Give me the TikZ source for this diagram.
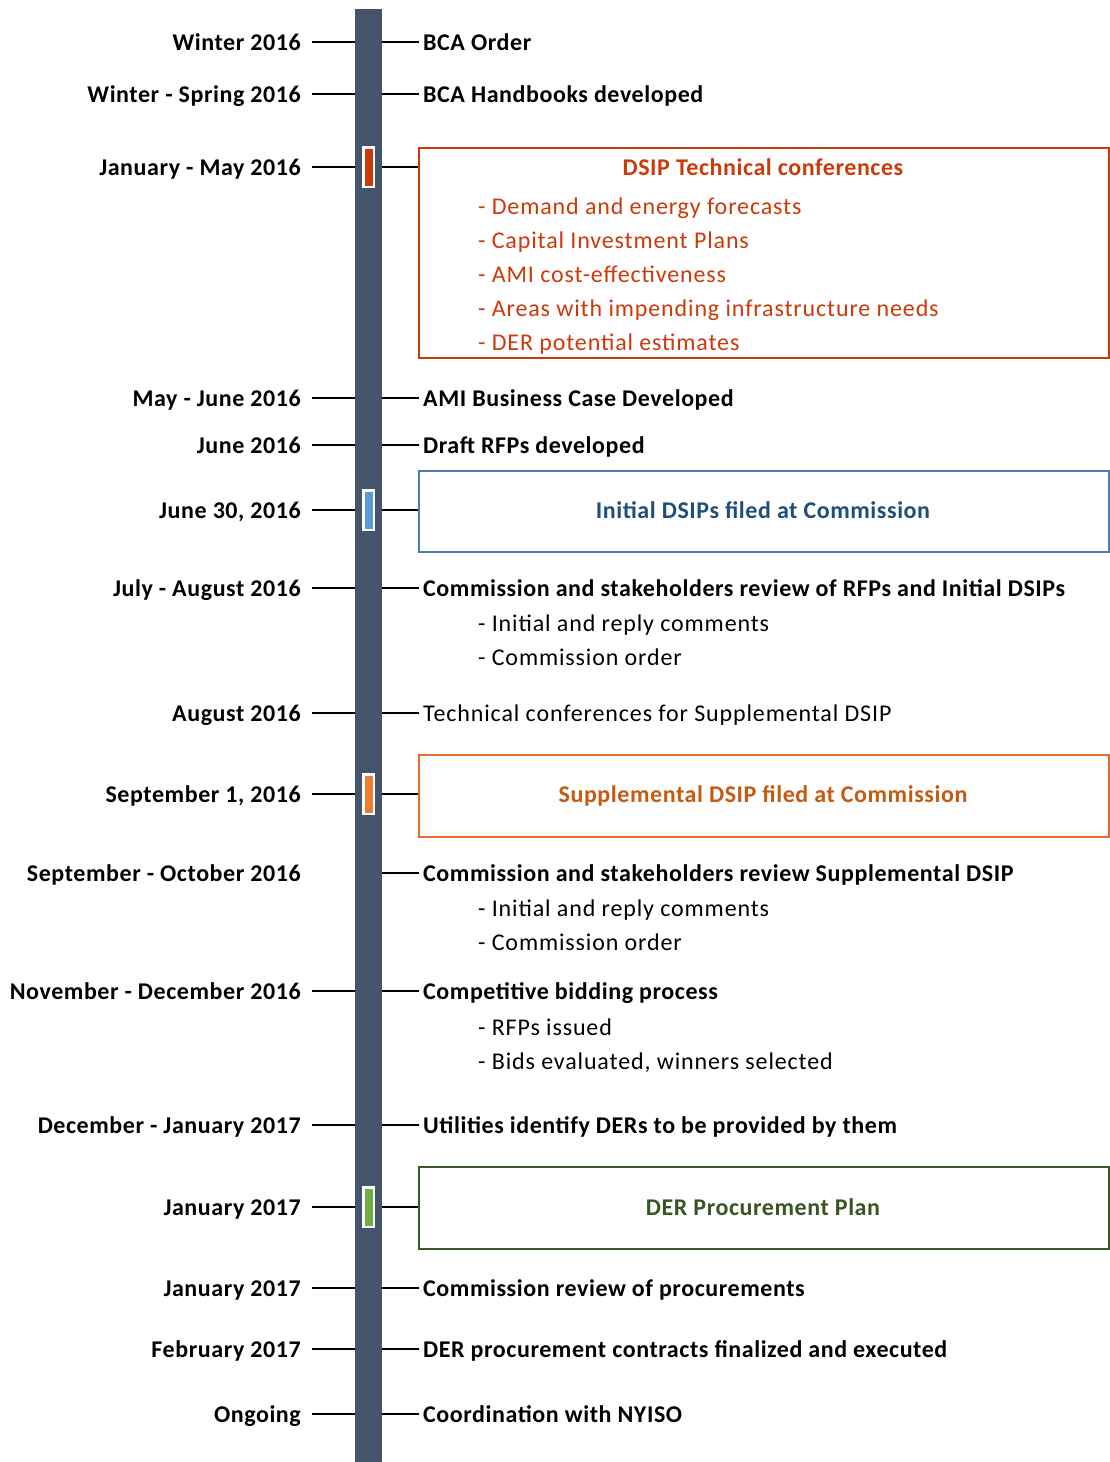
\documentclass[tikz,border=0pt]{standalone}
\usepackage{fontspec}
\setmainfont{Carlito}
\newfontfamily\regsp[LetterSpace=3.6]{Carlito}
\newfontfamily\bldsp[LetterSpace=2.4]{Carlito}
\definecolor{barc}{HTML}{44546A}
\definecolor{redc}{HTML}{CC3A0A}
\definecolor{bluebd}{HTML}{4A7EBB}
\definecolor{bluetx}{HTML}{1F4E79}
\definecolor{bluemk}{HTML}{5B9BD5}
\definecolor{orgbd}{HTML}{E46C28}
\definecolor{orgtx}{HTML}{C55A11}
\definecolor{orgmk}{HTML}{ED7D31}
\definecolor{grnbd}{HTML}{3A5A22}
\definecolor{grntx}{HTML}{375623}
\definecolor{grnmk}{HTML}{70AD47}
\begin{document}
\begin{tikzpicture}[x=1pt,y=-1pt,
  every node/.style={inner sep=0pt},
  txt/.style={font=\fontsize{24}{28}\selectfont\regsp, text height=16pt, text depth=0pt},
  btxt/.style={font=\fontsize{24}{28}\selectfont\bldsp\bfseries, text height=16pt, text depth=0pt},
  lab/.style={btxt, anchor=east},
  evt/.style={btxt, anchor=west},
  evtr/.style={txt, anchor=west},
  sub/.style={txt, anchor=west},
  tick/.style={line width=2pt, black},
  boxr/.style={draw, line width=2pt, minimum width=690, anchor=north west},
  marker/.style={draw=white, line width=2.5pt, minimum width=10.5, minimum height=39.5}
]
\useasboundingbox (0,0) rectangle (1110,1462);
\fill[white] (0,0) rectangle (1110,1462);
% timeline bar
\node[fill=barc, minimum width=27, minimum height=1453, anchor=north west] (bar) at (355,9) {};

% ---- left labels
\node[lab] (l1) at (301,42) {Winter 2016};
\node[lab] (l2) at (301,94) {Winter - Spring 2016};
\node[lab] (l3) at (301,167) {January - May 2016};
\node[lab] (l4) at (301,398) {May - June 2016};
\node[lab] (l5) at (301,445) {June 2016};
\node[lab] (l6) at (301,510) {June 30, 2016};
\node[lab] (l7) at (301,588) {July - August 2016};
\node[lab] (l8) at (301,713) {August 2016};
\node[lab] (l9) at (301,794) {September 1, 2016};
\node[lab] (l10) at (301,873) {September - October 2016};
\node[lab] (l11) at (301,991) {November - December 2016};
\node[lab] (l12) at (301,1125) {December - January 2017};
\node[lab] (l13) at (301,1207) {January 2017};
\node[lab] (l14) at (301,1288) {January 2017};
\node[lab] (l15) at (301,1349) {February 2017};
\node[lab] (l16) at (301,1414) {Ongoing};

% left ticks (none for l10)
\foreach \i in {1,...,9,11,12,13,14,15,16}{
  \draw[tick] ([xshift=11pt]l\i.east) -- (l\i.east -| bar.west);
}

% ---- boxes
\node[boxr, draw=redc, minimum height=210] (b3) at (418,147) {};
\node[boxr, draw=bluebd, minimum height=81] (b6) at (418,470) {};
\node[boxr, draw=orgbd, minimum height=82] (b9) at (418,754) {};
\node[boxr, draw=grnbd, minimum height=82] (b13) at (418,1166) {};

\node[btxt, text=redc] (t3) at (763,167) {DSIP Technical conferences};
\node[sub, text=redc] (s3a) at (478,206) {- Demand and energy forecasts};
\node[sub, text=redc] (s3b) at (478,240) {- Capital Investment Plans};
\node[sub, text=redc] (s3c) at (478,274) {- AMI cost-effectiveness};
\node[sub, text=redc] (s3d) at (478,308) {- Areas with impending infrastructure needs};
\node[sub, text=redc] (s3e) at (478,342) {- DER potential estimates};

\node[btxt, text=bluetx] (t6) at (763,510) {Initial DSIPs filed at Commission};
\node[btxt, text=orgtx] (t9) at (763,794) {Supplemental DSIP filed at Commission};
\node[btxt, text=grntx] (t13) at (763,1207) {DER Procurement Plan};

% ---- right events
\node[evt] (r1) at (423,42) {BCA Order};
\node[evt] (r2) at (423,94) {BCA Handbooks developed};
\node[evt] (r4) at (423,398) {AMI Business Case Developed};
\node[evt] (r5) at (423,445) {Draft RFPs developed};
\node[evt] (r7) at (423,588) {Commission and stakeholders review of RFPs and Initial DSIPs};
\node[sub] (s7a) at (478,623) {- Initial and reply comments};
\node[sub] (s7b) at (478,657) {- Commission order};
\node[evtr] (r8) at (423,713) {Technical conferences for Supplemental DSIP};
\node[evt] (r10) at (423,873) {Commission and stakeholders review Supplemental DSIP};
\node[sub] (s10a) at (478,908) {- Initial and reply comments};
\node[sub] (s10b) at (478,942) {- Commission order};
\node[evt] (r11) at (423,991) {Competitive bidding process};
\node[sub] (s11a) at (478,1027) {- RFPs issued};
\node[sub] (s11b) at (478,1061) {- Bids evaluated, winners selected};
\node[evt] (r12) at (423,1125) {Utilities identify DERs to be provided by them};
\node[evt] (r14) at (423,1288) {Commission review of procurements};
\node[evt] (r15) at (423,1349) {DER procurement contracts finalized and executed};
\node[evt] (r16) at (423,1414) {Coordination with NYISO};

% right ticks to text
\foreach \i in {1,2,4,5,7,8,10,11,12,14,15,16}{
  \draw[tick] (r\i.west -| bar.east) -- ([xshift=-4pt]r\i.west);
}
% right ticks to boxes
\draw[tick] (l3.east -| bar.east) -- (l3.east -| b3.west);
\draw[tick] (l6.east -| bar.east) -- (l6.east -| b6.west);
\draw[tick] (l9.east -| bar.east) -- (l9.east -| b9.west);
\draw[tick] (l13.east -| bar.east) -- (l13.east -| b13.west);

% markers
\node[marker, fill=redc] (m3) at (368.5,167) {};
\node[marker, fill=bluemk] (m6) at (368.5,510) {};
\node[marker, fill=orgmk] (m9) at (368.5,794) {};
\node[marker, fill=grnmk] (m13) at (368.5,1207) {};
\end{tikzpicture}
\end{document}
